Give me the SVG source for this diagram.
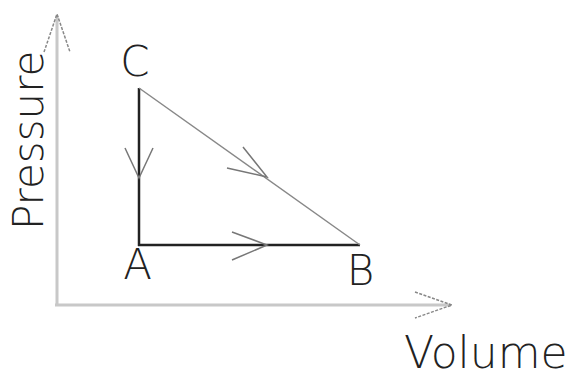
<svg xmlns="http://www.w3.org/2000/svg" width="576" height="372" viewBox="0 0 576 372">
<style>
.axis{stroke:#c8c8c8;stroke-width:3;fill:none}
.axhead{stroke:#888;stroke-width:1.5;fill:none;stroke-dasharray:3 1.5}
.dark{stroke:#222;stroke-width:2.5;fill:none}
.thin{stroke:#888;stroke-width:1.5;fill:none}
.head{stroke:#777;stroke-width:1.5;fill:none}
text{font-family:"DejaVu Sans",sans-serif;font-weight:200;fill:#222;font-size:42px}
</style>
<rect width="576" height="372" fill="#fff"/>
<g id="axes">
<line class="axis" x1="57" y1="16" x2="57" y2="306"/>
<line class="axis" x1="55" y1="305" x2="450" y2="305"/>
<polyline class="axhead" points="44,52 57,14 70,52"/>
<polyline class="axhead" points="415,292 452,305 415,318"/>
</g>
<g id="labels">
<text transform="translate(43,230) rotate(-90)">Pressure</text>
<text x="404" y="368" style="font-size:44px">Volume</text>
</g>
<g id="connectors">
<line class="dark" x1="139" y1="88" x2="139" y2="246"/>
<line class="dark" x1="138" y1="245" x2="360" y2="245"/>
<line class="thin" x1="139" y1="88" x2="360" y2="245"/>
<polyline class="head" points="125,148 139,178 153,148"/>
<polyline class="head" points="232,232 267,245 232,260"/>
<polyline class="head" points="243,147 267,177 227,168"/>
</g>
<g id="node-C"><text x="135" y="76" text-anchor="middle">C</text></g>
<g id="node-A"><text x="137.5" y="279" text-anchor="middle">A</text></g>
<g id="node-B"><text x="360.5" y="285" text-anchor="middle">B</text></g>
</svg>
